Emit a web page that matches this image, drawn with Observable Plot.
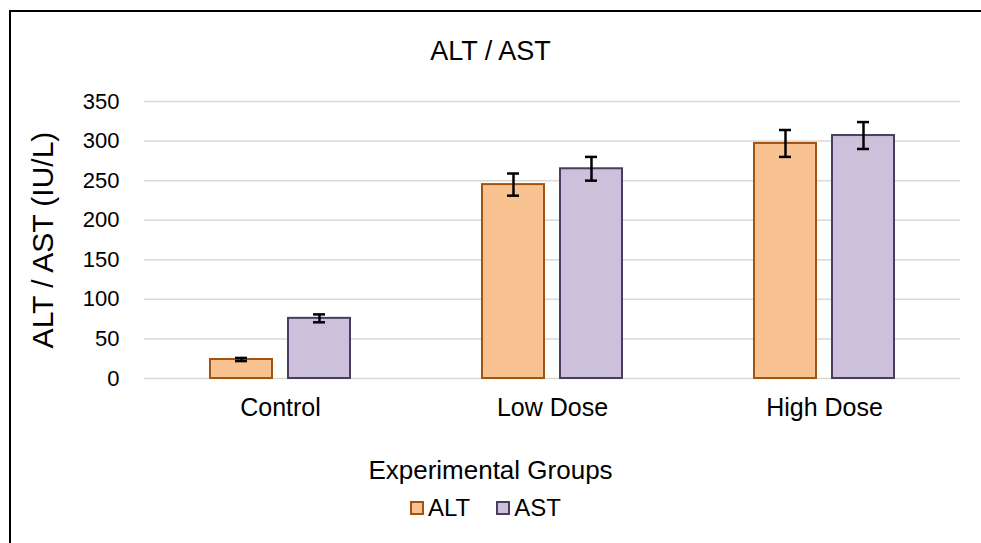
<!DOCTYPE html>
<html>
<head>
<meta charset="utf-8">
<script src="https://cdn.jsdelivr.net/npm/d3@7"></script>
<script src="https://cdn.jsdelivr.net/npm/@observablehq/plot@0.6"></script>
<style>
  html, body { margin: 0; padding: 0; background: #fff; overflow: hidden; }
  #wrap { position: relative; width: 981px; height: 543px; overflow: hidden; font-family: "Liberation Sans", Arial, sans-serif; color: #000; }
  #frame { position: absolute; left: 0; top: 0; pointer-events: none; }
  #title { position: absolute; left: 0; top: 0; width: 981px; height: 90px; }
  #title span { position: absolute; left: 0; right: 0; text-align: center; top: 36px; font-size: 27px; line-height: 30px; }
  #chart { position: absolute; left: 0; top: 90px; }
  #xlabel { position: absolute; left: 0; top: 455px; width: 981px; text-align: center; font-size: 26px; line-height: 30px; }
  #legend { position: absolute; left: 0; top: 494px; width: 971px; padding-right: 10px; display: flex; justify-content: center; align-items: center; font-size: 24px; line-height: 28px; }
  .item { display: flex; align-items: center; margin: 0 13px 0 13px; }
  .sw { width: 10px; height: 10px; border: 2px solid; margin-right: 4px; }
</style>
</head>
<body>
<div id="wrap">
  <div id="title"><span>ALT / AST</span></div>
  <div id="chart"></div>
  <div id="xlabel">Experimental Groups</div>
  <div id="legend"></div>
  <svg id="frame" width="981" height="543"><path d="M10,543V11H981" fill="none" stroke="#000" stroke-width="2"/></svg>
</div>
<script>
const groups = ["Control", "Low Dose", "High Dose"];
const series = ["ALT", "AST"];
const altValues = [24, 245, 297];
const altErrors = [2, 14, 17];
const astValues = [76, 265, 307];
const astErrors = [5, 15, 17];
const yTicks = [0, 50, 100, 150, 200, 250, 300, 350];

const fills = {ALT: "#F8C391", AST: "#CBC1DA"};
const strokes = {ALT: "#A3520F", AST: "#4B3B61"};

const data = [];
groups.forEach((g, i) => {
  data.push({group: g, series: "ALT", value: altValues[i], err: altErrors[i]});
  data.push({group: g, series: "AST", value: astValues[i], err: astErrors[i]});
});

const plot = Plot.plot({
  width: 981,
  height: 345,
  marginTop: 11,
  marginBottom: 57,
  marginLeft: 143,
  marginRight: 20,
  style: {fontFamily: '"Liberation Sans", Arial, sans-serif', fontSize: "22px", color: "#000", background: "transparent"},
  fx: {domain: groups, paddingInner: 0, paddingOuter: 0, label: null},
  x: {domain: series, paddingInner: 0.205, paddingOuter: 0.846, axis: null},
  y: {domain: [0, 350], ticks: yTicks, label: null},
  marks: [
    Plot.gridY(yTicks, {stroke: "#d9d9d9", strokeOpacity: 1, strokeWidth: 1.5}),
    Plot.axisY(yTicks, {tickSize: 0, tickPadding: 25, fontSize: 22, label: null}),
    Plot.axisY({tickSize: 0, ticks: [], label: "ALT / AST (IU/L)", labelAnchor: "center", labelOffset: 113, labelArrow: "none", fontSize: 30}),
    Plot.axisFx({anchor: "bottom", tickSize: 0, tickPadding: 20, label: null, fontSize: 25}),
    Plot.barY(data, {fx: "group", x: "series", y: "value", fill: d => fills[d.series], stroke: d => strokes[d.series], strokeWidth: 2}),
    Plot.ruleX(data, {fx: "group", x: "series", y1: d => d.value - d.err, y2: d => d.value + d.err, stroke: "#000", strokeWidth: 2.5}),
    Plot.tickY(data, {fx: "group", x: "series", y: d => d.value - d.err, stroke: "#000", strokeWidth: 2.5, insetLeft: 25, insetRight: 25}),
    Plot.tickY(data, {fx: "group", x: "series", y: d => d.value + d.err, stroke: "#000", strokeWidth: 2.5, insetLeft: 25, insetRight: 25})
  ]
});
document.getElementById("chart").appendChild(plot);

const legend = document.getElementById("legend");
series.forEach(s => {
  const item = document.createElement("div");
  item.className = "item";
  const sw = document.createElement("div");
  sw.className = "sw";
  sw.style.background = fills[s];
  sw.style.borderColor = strokes[s];
  const t = document.createElement("span");
  t.textContent = s;
  item.appendChild(sw);
  item.appendChild(t);
  legend.appendChild(item);
});
</script>
</body>
</html>
